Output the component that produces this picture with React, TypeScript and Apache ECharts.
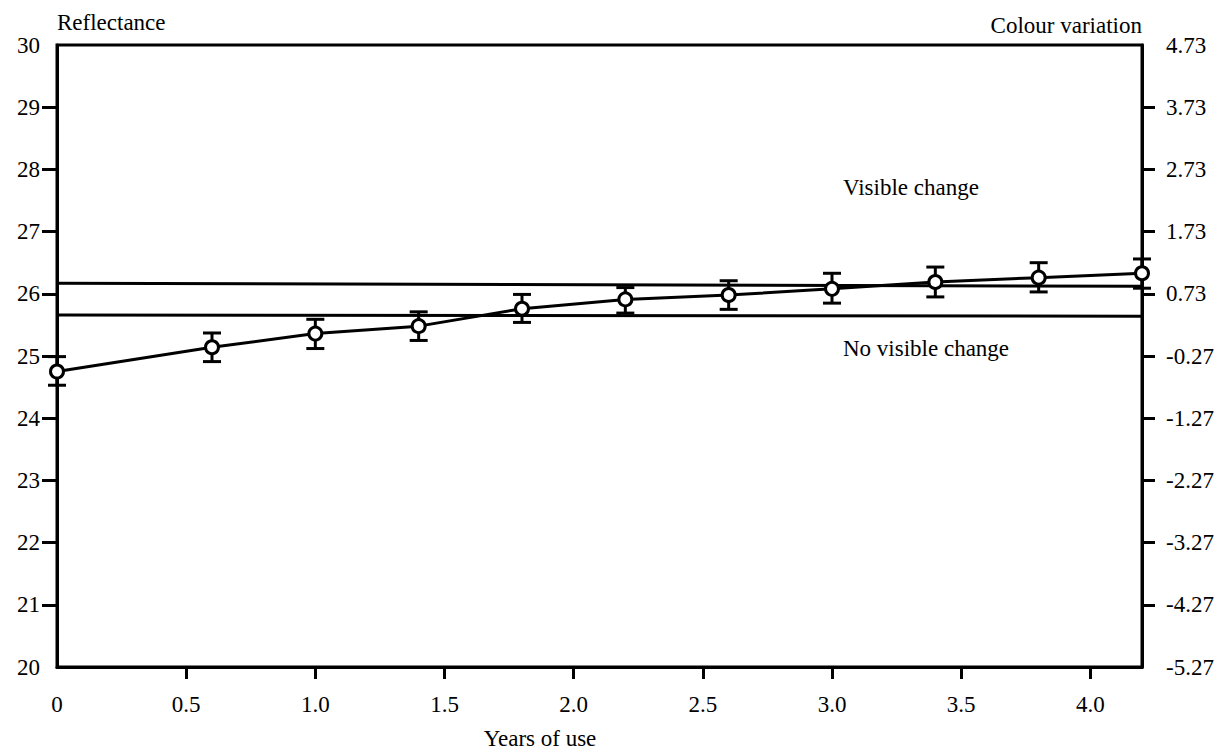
import React, { useEffect, useRef } from "react";
import * as echarts from "echarts";

// ---- data ----
const years = [0, 0.6, 1.0, 1.4, 1.8, 2.2, 2.6, 3.0, 3.4, 3.8, 4.2];
const reflectance = [24.75, 25.14, 25.36, 25.48, 25.76, 25.91, 25.98, 26.08, 26.19, 26.26, 26.33];
const errLow = [24.53, 24.91, 25.12, 25.25, 25.54, 25.69, 25.75, 25.85, 25.95, 26.03, 26.09];
const errHigh = [24.99, 25.37, 25.59, 25.71, 25.99, 26.1, 26.21, 26.33, 26.43, 26.5, 26.56];
const visibleLineX = [0, 4.2];
const visibleLineY = [26.17, 26.12];
const noVisibleLineX = [0, 4.2];
const noVisibleLineY = [25.66, 25.64];
const xTickValues = [0, 0.5, 1.0, 1.5, 2.0, 2.5, 3.0, 3.5, 4.0];
const leftTickValues = [20, 21, 22, 23, 24, 25, 26, 27, 28, 29, 30];
const rightTickValues = [-5.27, -4.27, -3.27, -2.27, -1.27, -0.27, 0.73, 1.73, 2.73, 3.73, 4.73];

const FONT = "Liberation Serif, Times New Roman, DejaVu Serif, serif";
const FS = 23;
const BLACK = "#000";

export default function App() {
  const ref = useRef<HTMLDivElement>(null);

  useEffect(() => {
    document.body.style.margin = "0";
    if (!ref.current) return;
    const chart = echarts.init(ref.current, null, { renderer: "svg" });

    const labelStyle = { color: BLACK, fontFamily: FONT, fontSize: FS };
    const textStyle = { fill: BLACK, fontFamily: FONT, fontSize: FS };

    const option: any = {
      animation: false,
      backgroundColor: "#fff",
      textStyle: { fontFamily: FONT },
      grid: {
        left: 57,
        right: 78,
        top: 45,
        bottom: 86,
        show: true,
        borderColor: BLACK,
        borderWidth: 3,
        containLabel: false,
        outerBoundsMode: "none",
      },
      xAxis: {
        type: "value",
        min: 0,
        max: 4.2,
        axisLine: { show: true, onZero: false, lineStyle: { color: BLACK, width: 3 } },
        splitLine: { show: false },
        axisTick: {
          show: true,
          customValues: xTickValues.slice(1),
          length: 12,
          lineStyle: { color: BLACK, width: 3 },
        },
        axisLabel: {
          ...labelStyle,
          customValues: xTickValues,
          margin: 26,
          formatter: (v: number) => (v === 0 ? "0" : v.toFixed(1)),
        },
      },
      yAxis: [
        {
          type: "value",
          min: 20,
          max: 30,
          interval: 1,
          position: "left",
          name: "Reflectance",
          nameLocation: "end",
          nameGap: 23,
          nameTextStyle: { ...labelStyle, align: "left", verticalAlign: "middle" },
          axisLine: { show: true, onZero: false, lineStyle: { color: BLACK, width: 3 } },
          splitLine: { show: false },
          axisTick: {
            show: true,
            customValues: leftTickValues.slice(1, -1),
            length: 15,
            lineStyle: { color: BLACK, width: 3 },
          },
          axisLabel: {
            ...labelStyle,
            customValues: leftTickValues,
            margin: 17,
          },
        },
        {
          type: "value",
          min: -5.27,
          max: 4.73,
          position: "right",
          name: "Colour variation",
          nameLocation: "end",
          nameGap: 20,
          nameTextStyle: { ...labelStyle, align: "right", verticalAlign: "middle" },
          axisLine: { show: true, onZero: false, lineStyle: { color: BLACK, width: 3 } },
          splitLine: { show: false },
          axisTick: {
            show: true,
            customValues: rightTickValues.slice(1, -1),
            length: 13,
            lineStyle: { color: BLACK, width: 3 },
          },
          axisLabel: {
            ...labelStyle,
            customValues: rightTickValues,
            margin: 24,
            formatter: (v: number) => v.toFixed(2),
          },
        },
      ],
      graphic: [
        {
          type: "text",
          x: 540,
          y: 738,
          style: { ...textStyle, text: "Years of use", align: "center", verticalAlign: "middle" },
        },
        {
          type: "text",
          x: 843,
          y: 187,
          style: { ...textStyle, text: "Visible change", align: "left", verticalAlign: "middle" },
        },
        {
          type: "text",
          x: 843,
          y: 348,
          style: { ...textStyle, text: "No visible change", align: "left", verticalAlign: "middle" },
        },
      ],
      series: [
        {
          type: "line",
          name: "visible threshold",
          yAxisIndex: 0,
          data: visibleLineX.map((x, i) => [x, visibleLineY[i]]),
          symbol: "none",
          lineStyle: { color: BLACK, width: 3 },
          z: 1,
        },
        {
          type: "line",
          name: "no visible threshold",
          yAxisIndex: 0,
          data: noVisibleLineX.map((x, i) => [x, noVisibleLineY[i]]),
          symbol: "none",
          lineStyle: { color: BLACK, width: 3 },
          z: 1,
        },
        {
          type: "custom",
          name: "error",
          yAxisIndex: 0,
          data: years.map((x, i) => [x, errLow[i], errHigh[i]]),
          encode: { x: 0, y: [1, 2] },
          clip: false,
          z: 2,
          renderItem: (params: any, api: any) => {
            const x = api.value(0);
            const lo = api.coord([x, api.value(1)]);
            const hi = api.coord([x, api.value(2)]);
            const hw = 9;
            const style = { stroke: BLACK, lineWidth: 3 };
            return {
              type: "group",
              children: [
                { type: "line", shape: { x1: lo[0], y1: lo[1], x2: hi[0], y2: hi[1] }, style },
                { type: "line", shape: { x1: lo[0] - hw, y1: lo[1], x2: lo[0] + hw, y2: lo[1] }, style },
                { type: "line", shape: { x1: hi[0] - hw, y1: hi[1], x2: hi[0] + hw, y2: hi[1] }, style },
              ],
            };
          },
        },
        {
          type: "line",
          name: "Reflectance",
          yAxisIndex: 0,
          data: years.map((x, i) => [x, reflectance[i]]),
          symbol: "circle",
          symbolSize: 13,
          showAllSymbol: true,
          clip: false,
          itemStyle: { color: "#fff", borderColor: BLACK, borderWidth: 3 },
          lineStyle: { color: BLACK, width: 3 },
          z: 3,
        },
      ],
    };

    chart.setOption(option);
    return () => chart.dispose();
  }, []);

  return <div ref={ref} style={{ width: 1220, height: 753 }} />;
}
